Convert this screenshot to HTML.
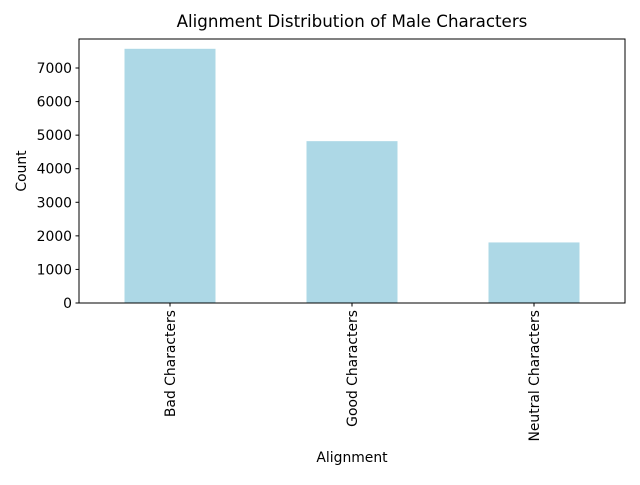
<!DOCTYPE html>
<html><head><meta charset="utf-8"><style>body{margin:0;background:#fff}svg text{font-family:"DejaVu Sans","Liberation Sans",sans-serif;fill:#000}</style></head>
<body>
<svg id="c" width="640" height="480"></svg>
<script>
const categories=["Bad Characters","Good Characters","Neutral Characters"];
const counts=[7572,4821,1804];
const yTicks=[0,1000,2000,3000,4000,5000,6000,7000];
const ns="http://www.w3.org/2000/svg";
const svg=document.getElementById('c');
const L=79,R=625,T=39,B=303,yMax=7864;
const y=v=>B-(B-T)*v/yMax;
const step=(R-L)/categories.length;
const x=i=>L+step*(i+0.5);
function mk(t,a){const e=document.createElementNS(ns,t);for(const k in a)e.setAttribute(k,a[k]);svg.appendChild(e);return e;}
counts.forEach((v,i)=>{const r=mk('rect',{x:x(i)-step/4,y:y(v),width:step/2,height:B-y(v),fill:'#add8e6'});

});
const f=mk('rect',{x:L,y:T,width:R-L,height:B-T,fill:'none',stroke:'#000','stroke-width':1});


yTicks.forEach(v=>{mk('line',{x1:L-3.5,x2:L,y1:y(v),y2:y(v),stroke:'#000'});
const t=mk('text',{x:L-7,y:y(v)+5,'text-anchor':'end','font-size':'13.9'});t.textContent=v;

});
categories.forEach((c,i)=>{mk('line',{x1:x(i),x2:x(i),y1:B,y2:B+3.5,stroke:'#000'});
const t=mk('text',{transform:`translate(${x(i)+5},${B+7}) rotate(-90)`,'text-anchor':'end','font-size':'13.9'});t.textContent=c;

});
let t=mk('text',{x:(L+R)/2,y:27,'text-anchor':'middle','font-size':'16.7'});t.textContent='Alignment Distribution of Male Characters';


t=mk('text',{x:(L+R)/2,y:462,'text-anchor':'middle','font-size':'13.9'});t.textContent='Alignment';


t=mk('text',{transform:`translate(26,${(T+B)/2}) rotate(-90)`,'text-anchor':'middle','font-size':'13.9'});t.textContent='Count';


</script>
</body></html>
